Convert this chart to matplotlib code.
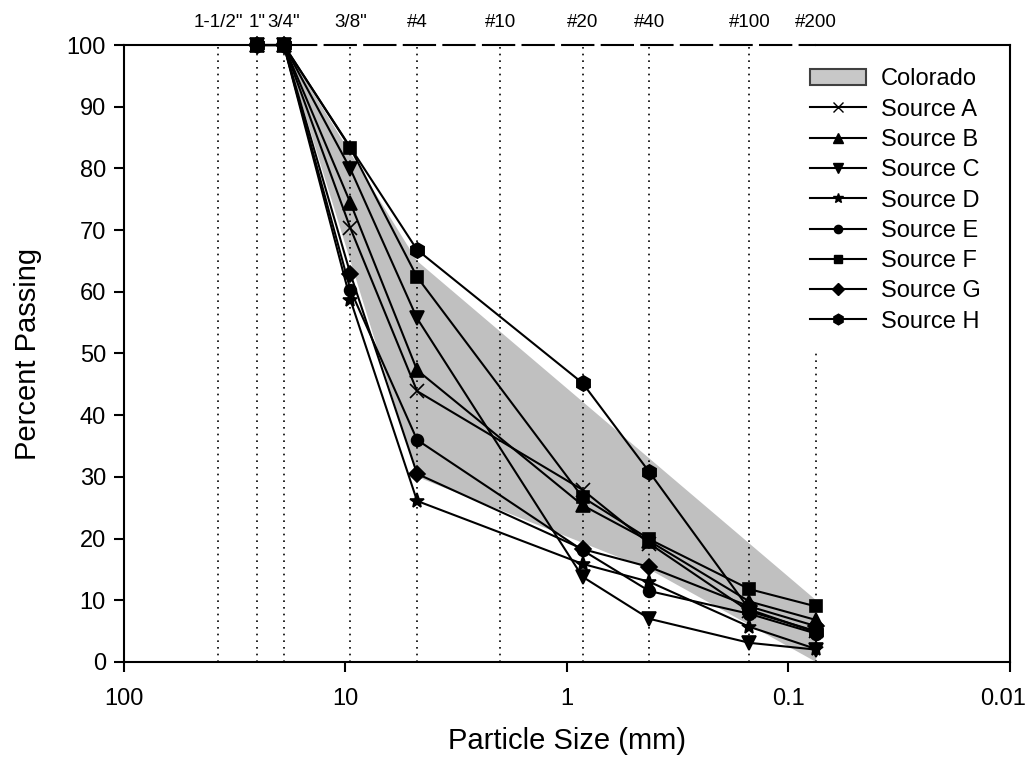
import numpy as np
import matplotlib.pyplot as plt
from matplotlib.patches import Patch
from matplotlib.lines import Line2D
import matplotlib.transforms as mtransforms

plt.rcParams['font.family'] = ['Liberation Sans', 'DejaVu Sans']

# sieve sizes (mm) and their names along the top
sieve_mm = [37.5, 25, 19, 9.5, 4.75, 2.0, 0.85, 0.425, 0.15, 0.075]
sieve_names = ['1-1/2"', '1"', '3/4"', '3/8"', '#4', '#10', '#20', '#40', '#100', '#200']

# sizes at which the sources were tested
sizes = [25, 19, 9.5, 4.75, 0.85, 0.425, 0.15, 0.075]
sizes_h = [25, 19, 4.75, 0.85, 0.425, 0.15, 0.075]

source_a = [100, 100, 70.3, 43.9, 27.9, 19.2, 8.2, 5.0]
source_b = [100, 100, 74.4, 47.3, 25.4, 19.6, 9.8, 6.8]
source_c = [100, 100, 79.9, 55.7, 13.8, 7.0, 3.1, 2.0]
source_d = [100, 100, 58.7, 26.1, 15.9, 13.0, 5.7, 2.1]
source_e = [100, 100, 60.3, 36.0, 18.1, 11.5, 7.8, 4.6]
source_f = [100, 100, 83.3, 62.4, 26.7, 19.9, 11.8, 9.0]
source_g = [100, 100, 62.9, 30.5, 18.3, 15.4, 9.0, 5.8]
source_h = [100, 100, 66.8, 45.2, 30.8, 8.5, 4.8]

# Colorado gradation band
band_sizes = [19, 4.75, 0.425, 0.075]
band_upper = [100, 65, 33, 10]
band_lower_sizes = [19, 4.75, 0.425, 0.075]
band_lower = [100, 30, 15, 0]

fig = plt.figure(figsize=(10.29, 7.63), dpi=100)
ax = fig.add_axes([0.1205, 0.1324, 0.861, 0.8086])

# band polygon
poly_x = band_sizes + band_lower_sizes[::-1]
poly_y = band_upper + band_lower[::-1]
ax.fill(poly_x, poly_y, color='#c0c0c0', lw=0, zorder=1)

# sieve reference lines
for s in sieve_mm:
    top = 50 if s == 0.075 else 100
    ax.plot([s, s], [0, top], color='black', ls=(0, (1, 3)), lw=1.2, zorder=2)

# top border: solid / dashed / solid
ax.plot([100, 25], [100, 100], color='black', lw=1.5, clip_on=False, zorder=3)
ax.plot([19, 0.075], [100, 100], color='black', lw=1.5, ls=(0, (16, 3)), clip_on=False, zorder=3)
ax.plot([0.075, 0.01], [100, 100], color='black', lw=1.5, clip_on=False, zorder=3)

series = [
    ('Source A', sizes, source_a, 'x'),
    ('Source B', sizes, source_b, '^'),
    ('Source C', sizes, source_c, 'v'),
    ('Source D', sizes, source_d, '*'),
    ('Source E', sizes, source_e, 'o'),
    ('Source F', sizes, source_f, 's'),
    ('Source G', sizes, source_g, 'D'),
    ('Source H', sizes_h, source_h, 'h'),
]
msizes = {'x': 9.5, '^': 9.5, 'v': 9.5, '*': 11, 'o': 8.5, 's': 9, 'D': 8.5, 'h': 11}
for name, xs, ys, m in series:
    ax.plot(xs, ys, color='black', lw=1.5, marker=m, ms=msizes[m],
            mfc='black', mec='black', mew=1.2, clip_on=False, zorder=4)

ax.set_xscale('log')
ax.set_xlim(100, 0.01)
ax.set_ylim(0, 100)
ax.set_xticks([100, 10, 1, 0.1, 0.01])
ax.set_xticklabels(['100', '10', '1', '0.1', '0.01'])
ax.xaxis.set_minor_locator(plt.NullLocator())
ax.set_yticks(range(0, 101, 10))
ax.tick_params(direction='out', length=7, width=1.5, labelsize=17, pad=6)
ax.tick_params(axis='x', pad=12)
ax.spines['top'].set_visible(False)
for sp in ['left', 'right', 'bottom']:
    ax.spines[sp].set_linewidth(1.5)

# keep the last x label inside the figure
last = ax.get_xticklabels()[-1]
last.set_transform(last.get_transform() + mtransforms.ScaledTranslation(-0.07, 0, fig.dpi_scale_trans))

ax.set_xlabel('Particle Size (mm)', fontsize=21, labelpad=12)
ax.set_ylabel('Percent Passing', fontsize=21, labelpad=18)

trans = mtransforms.blended_transform_factory(ax.transData, ax.transAxes)
for s, n in zip(sieve_mm, sieve_names):
    ax.text(s, 1.036, n, transform=trans, ha='center', va='center', fontsize=13.5)

handles = [Patch(facecolor='#c8c8c8', edgecolor='#404040', lw=1.5, label='Colorado')]
for name, xs, ys, m in series:
    handles.append(Line2D([], [], color='black', lw=1.5, marker=m, ms=msizes[m] * 0.7,
                          mfc='black', mec='black', label=name))
ax.legend(handles=handles, loc='upper left', bbox_to_anchor=(0.774, 0.962), frameon=False,
          fontsize=17, handlelength=2.4, handletextpad=0.6, labelspacing=0.35,
          borderaxespad=0, borderpad=0)

fig.savefig('out.png', dpi=100)
